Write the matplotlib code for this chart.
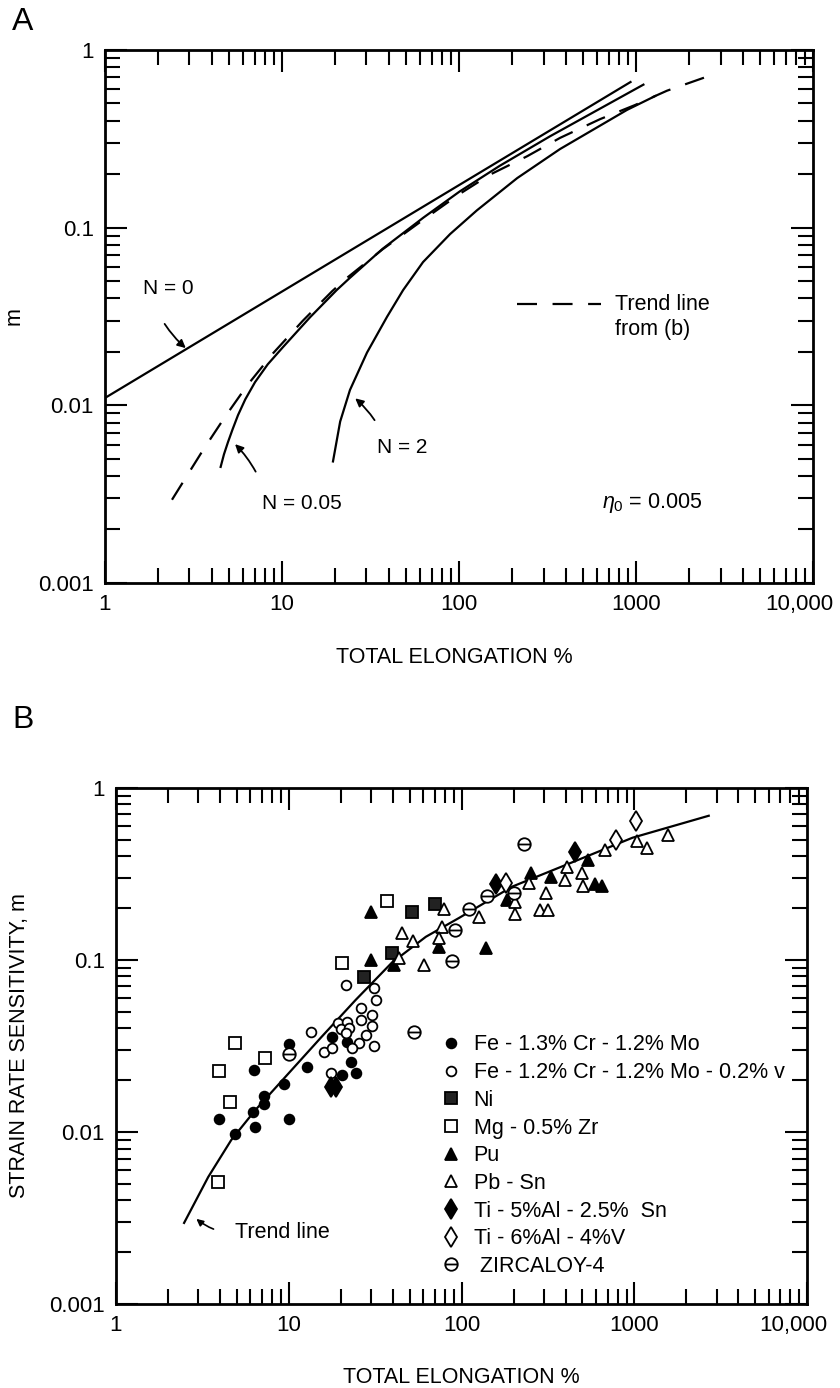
import numpy as np
import matplotlib.pyplot as plt
import matplotlib.transforms as mtransforms
from matplotlib.path import Path

plt.rcParams['font.family'] = ['Liberation Sans', 'DejaVu Sans']
plt.rcParams['mathtext.fontset'] = 'custom'
plt.rcParams['mathtext.rm'] = 'Liberation Sans'
plt.rcParams['mathtext.it'] = 'Liberation Sans:italic'

# ---- panel A: model curves, eta0 = 0.005 ----
n0_elong = [1, 930]
n0_m = [0.011, 0.66]

n005_elong = [4.5, 4.7, 4.95, 5.25, 5.64, 6.2, 7.04, 8.3, 10.1, 14.4, 20.4, 24.2, 37, 63,
              101, 170, 327, 1100]
n005_m = [0.0045, 0.0053, 0.0062, 0.0073, 0.0088, 0.0108, 0.0135, 0.0170, 0.0212, 0.0313,
          0.0446, 0.0522, 0.076, 0.114, 0.160, 0.223, 0.327, 0.638]

n2_elong = [19.4, 21.3, 24.2, 30.2, 39.2, 48.3, 62.6, 89, 126, 213, 372, 626, 889, 1280]
n2_m = [0.00483, 0.0081, 0.0122, 0.0198, 0.0315, 0.0445, 0.064, 0.092, 0.125,
        0.190, 0.277, 0.375, 0.460, 0.55]

trendA_elong = [2.39, 2.76, 3.58, 4.76, 6.34, 8.89, 13.1, 19.2, 23.3, 37, 63, 101,
                150, 242, 372, 626, 987, 1496, 2518]
trendA_m = [0.00294, 0.0037, 0.0056, 0.0086, 0.0129, 0.0196, 0.0299, 0.0439, 0.0522,
            0.0755, 0.111, 0.155, 0.199, 0.252, 0.320, 0.408, 0.490, 0.590, 0.708]

# ---- panel B: measured data + trend line ----
trendB_elong = [2.48, 3.42, 4.65, 6.41, 9.57, 15.5, 24.4, 39.4, 62.1, 96.6, 196, 404, 975, 2692]
trendB_m = [0.00296, 0.00547, 0.00898, 0.0134, 0.0209, 0.0357, 0.0585, 0.096, 0.136,
            0.175, 0.266, 0.357, 0.512, 0.687]

fe13_x = [17.7, 21.6, 10.1, 12.7, 22.8, 20.2, 24.4, 6.32, 9.44, 7.22, 7.22, 6.24, 3.96, 10.1, 4.91, 6.41]
fe13_y = [0.0357, 0.0334, 0.0325, 0.0239, 0.0255, 0.0214, 0.0220, 0.0229, 0.0190, 0.0162,
          0.0146, 0.0131, 0.0119, 0.0119, 0.00973, 0.0107]

fe12_x = [21.3, 31.0, 31.9, 26.1, 30.2, 26.1, 30.2, 19.4, 21.6, 20.0, 22.2, 21.3, 27.9, 13.4,
          25.4, 23.1, 31.0, 16.1, 17.9, 17.5]
fe12_y = [0.0716, 0.0688, 0.0585, 0.0526, 0.0479, 0.0448, 0.0413, 0.0430, 0.0436, 0.0397,
          0.0402, 0.0376, 0.0366, 0.0381, 0.0329, 0.0308, 0.0316, 0.0292, 0.0308, 0.0220]

ni_x = [51.5, 70.1, 39.4, 27.1]
ni_y = [0.190, 0.212, 0.110, 0.0797]

mg_x = [36.9, 20.2, 7.32, 4.91, 3.96, 4.59, 3.91]
mg_y = [0.220, 0.096, 0.0269, 0.0329, 0.0226, 0.0149, 0.00512]

pu_x = [29.8, 29.8, 73.9, 139, 40.5, 183, 253, 542, 595, 653, 330]
pu_y = [0.190, 0.100, 0.119, 0.117, 0.0935, 0.223, 0.321, 0.381, 0.277, 0.269, 0.304]

pbsn_x = [79.0, 45.1, 52.2, 43.3, 60.5, 76.9, 73.9, 126, 204, 204, 246, 309, 285, 317,
          398, 409, 500, 507, 679, 1042, 1175, 1556]
pbsn_y = [0.198, 0.144, 0.129, 0.103, 0.0935, 0.156, 0.134, 0.178, 0.217, 0.185, 0.280,
          0.245, 0.195, 0.195, 0.292, 0.347, 0.321, 0.269, 0.436, 0.492, 0.448, 0.533]

ti5_x = [158, 455, 17.5, 18.7]
ti5_y = [0.277, 0.425, 0.0183, 0.0183]

ti6_x = [181, 787, 1028]
ti6_y = [0.280, 0.499, 0.643]

zr_x = [110, 140, 91.5, 87.9, 52.9, 10.1, 201, 230]
zr_y = [0.198, 0.236, 0.149, 0.0987, 0.0381, 0.0284, 0.245, 0.472]

x_ticks = [1, 10, 100, 1000, 10000]
x_ticklabels = ['1', '10', '100', '1000', '10,000']
y_ticks = [0.001, 0.01, 0.1, 1]
y_ticklabels = ['0.001', '0.01', '0.1', '1']


def style_axes(ax, fig):
    ax.set_xscale('log')
    ax.set_yscale('log')
    ax.set_xlim(1, 10000)
    ax.set_ylim(0.001, 1)
    ax.set_xticks(x_ticks, x_ticklabels)
    ax.set_yticks(y_ticks, y_ticklabels)
    ax.tick_params(which='both', direction='in', top=True, right=True, width=1.5, color='black')
    ax.tick_params(which='major', length=16, labelsize=16, pad=8)
    ax.tick_params(which='minor', length=11)
    for sp in ax.spines.values():
        sp.set_linewidth(2)
    # "10,000" sits a little left of the frame corner in the original
    last = ax.get_xticklabels()[-1]
    shift = mtransforms.ScaledTranslation(-14 / 100, 0, fig.dpi_scale_trans)
    last.set_transform(last.get_transform() + shift)


def main():
    fig = plt.figure(figsize=(8.4, 13.88), dpi=100)
    axA = fig.add_axes([0.125, 0.580, 0.843, 0.384])
    axB = fig.add_axes([0.138, 0.0605, 0.823, 0.372])

    # ---------- panel A ----------
    lw = 1.6
    axA.plot(n0_elong, n0_m, color='black', lw=lw)
    axA.plot(n005_elong, n005_m, color='black', lw=lw)
    axA.plot(n2_elong, n2_m, color='black', lw=lw)
    axA.plot(trendA_elong, trendA_m, color='black', lw=lw, ls=(0, (9, 7)))
    style_axes(axA, fig)
    axA.set_xlabel('TOTAL ELONGATION %', fontsize=15.5)
    axA.set_ylabel('m', fontsize=15.5)
    axA.xaxis.set_label_coords(0.493, -0.120)
    axA.yaxis.set_label_coords(-0.114, 0.5)

    arrow = dict(arrowstyle='-|>', color='black', lw=1.3, mutation_scale=12,
                 connectionstyle='arc3,rad=0.08')
    axA.text(0.054, 0.553, 'N = 0', transform=axA.transAxes, fontsize=15, va='center')
    axA.annotate('', xy=(2.94, 0.0205), xytext=(2.13, 0.0296), arrowprops=arrow)
    axA.text(0.222, 0.150, 'N = 0.05', transform=axA.transAxes, fontsize=15, va='center')
    axA.annotate('', xy=(5.29, 0.0062), xytext=(7.22, 0.0041), arrowprops=arrow)
    axA.text(0.384, 0.255, 'N = 2', transform=axA.transAxes, fontsize=15, va='center')
    axA.annotate('', xy=(25.2, 0.0112), xytext=(34.0, 0.0080), arrowprops=arrow)

    axA.plot([0.582, 0.700], [0.523, 0.523], transform=axA.transAxes, color='black',
             lw=lw, ls=(0, (9, 7)))
    axA.text(0.720, 0.523, 'Trend line', transform=axA.transAxes, fontsize=15.5, va='center')
    axA.text(0.720, 0.475, 'from (b)', transform=axA.transAxes, fontsize=15.5, va='center')
    axA.text(0.702, 0.150, r'$\eta_0$ = 0.005', transform=axA.transAxes, fontsize=15.5, va='center')

    # ---------- panel B ----------
    zr_marker = Path.make_compound_path(Path.unit_circle(),
                                        Path([[-1, 0], [1, 0]], [Path.MOVETO, Path.LINETO]))
    axB.plot(trendB_elong, trendB_m, color='black', lw=lw, zorder=3)
    series = [
        (fe13_x, fe13_y, 'o', 'black', 7, 'Fe - 1.3% Cr - 1.2% Mo'),
        (fe12_x, fe12_y, 'o', 'white', 7, 'Fe - 1.2% Cr - 1.2% Mo - 0.2% v'),
        (ni_x, ni_y, 's', '#222222', 8.5, 'Ni'),
        (mg_x, mg_y, 's', 'white', 8.5, 'Mg - 0.5% Zr'),
        (pu_x, pu_y, '^', 'black', 8, 'Pu'),
        (pbsn_x, pbsn_y, '^', 'white', 8, 'Pb - Sn'),
        (ti5_x, ti5_y, 'd', 'black', 10, 'Ti - 5%Al - 2.5%  Sn'),
        (ti6_x, ti6_y, 'd', 'white', 10, 'Ti - 6%Al - 4%V'),
        (zr_x, zr_y, zr_marker, 'white', 9, ' ZIRCALOY-4'),
    ]
    for xs, ys, mk, fc, ms, lab in series:
        axB.plot(xs, ys, ls='none', marker=mk, mfc=fc, mec='black', ms=ms, mew=1.3,
                 label=lab, zorder=4)
    style_axes(axB, fig)
    axB.set_xlabel('TOTAL ELONGATION %', fontsize=15.5)
    axB.set_ylabel('STRAIN RATE SENSITIVITY, m', fontsize=15.5)
    axB.xaxis.set_label_coords(0.50, -0.122)
    axB.yaxis.set_label_coords(-0.124, 0.5)

    axB.text(4.91, 0.00259, 'Trend line', fontsize=15.5, va='center')
    axB.annotate('', xy=(2.84, 0.0032), xytext=(3.80, 0.00269),
                 arrowprops=dict(arrowstyle='-|>', color='black', lw=1.2, mutation_scale=10,
                                 connectionstyle='arc3,rad=-0.1'))

    axB.legend(loc='upper left', bbox_to_anchor=(0.469, 0.522), frameon=False, fontsize=15.5,
               handlelength=1.0, handletextpad=0.55, labelspacing=0.31, borderpad=0,
               borderaxespad=0, markerscale=1.0)

    fig.text(12 / 840, 1 - 30 / 1388, 'A', fontsize=23)
    fig.text(12 / 840, 1 - 728 / 1388, 'B', fontsize=23)

    fig.savefig('out.png', dpi=100, facecolor='white')


if __name__ == '__main__':
    main()
